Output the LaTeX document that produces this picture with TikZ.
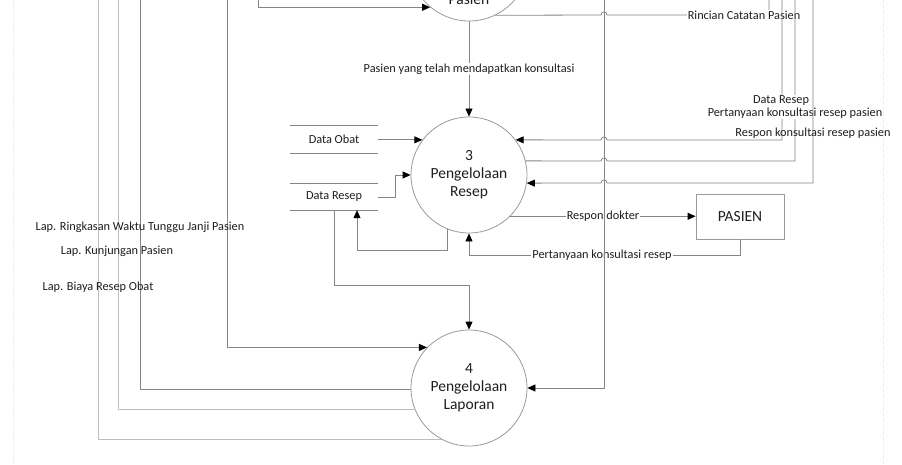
\documentclass[tikz,border=0pt]{standalone}
\usepackage{fontspec}
\setmainfont{Carlito}
\usetikzlibrary{arrows.meta,calc}
\definecolor{ln}{HTML}{858585}
\definecolor{lnl}{HTML}{BDBDBD}
\definecolor{circ}{HTML}{9A9A9A}
\definecolor{txt}{HTML}{1E1E1E}
\begin{document}
\begin{tikzpicture}[x=1pt,y=-1pt,
  proc/.style={circle,draw=circ,line width=0.8pt,minimum size=116pt,inner sep=0pt,align=center,
    font=\fontsize{15.5}{18}\selectfont,text=txt},
  conn/.style={draw=ln,line width=0.8pt},
  arr/.style={conn,-{Triangle[length=8pt,width=7pt,color=black]}},
  lbl/.style={font=\fontsize{12.3}{14}\selectfont,text=txt,inner sep=1pt},
  lblf/.style={lbl,fill=white},
  store/.style={minimum width=88pt,inner sep=0pt,font=\fontsize{12.3}{14}\selectfont,text=txt},
  entity/.style={draw=circ,line width=0.8pt,minimum width=88pt,minimum height=45pt,inner sep=0pt,
    font=\fontsize{15.5}{18}\selectfont,text=txt}]
\useasboundingbox (0,0) rectangle (902,465);
\clip (0,0) rectangle (902,465);
\fill[white] (0,0) rectangle (902,465);
\draw[gray!22,dotted] (13,0) -- (13,465);
\draw[gray!22,dotted] (883,0) -- (883,465);

% processes
\node[proc,minimum size=120pt] (c2) at (469,-39) {};
\node[lbl,font=\fontsize{15.5}{18}\selectfont,anchor=base] (c2t) at (469,5) {Pasien};
\node[proc] (c3) at (469,175) {3\\Pengelolaan\\Resep};
\node[proc] (c4) at (469,388) {4\\Pengelolaan\\Laporan};

% data stores
\node[store,minimum height=27pt] (ds1) at (334,139.5) {Data Obat};
\draw[conn] (ds1.north west) -- (ds1.north east);
\draw[conn] (ds1.south west) -- (ds1.south east);
\node[store,minimum height=26pt] (ds2) at (334,197) {Data Resep};
\draw[conn] (ds2.north west) -- (ds2.north east);
\draw[conn] (ds2.south west) -- (ds2.south east);

% external entity
\node[entity] (pas) at (740,216.5) {PASIEN};

% free ends at the top edge
\coordinate (t98) at (98,-5);
\coordinate (t118) at (118,-5);
\coordinate (t140) at (140,-5);
\coordinate (t227) at (227,-5);
\coordinate (t258) at (258,-5);
\coordinate (t604) at (604,-5);
\coordinate (t769) at (769,-5);
\coordinate (t782) at (782,-5);
\coordinate (t795) at (795,-5);
\coordinate (t813) at (813,-5);

% top connections
\draw[arr] (t258) |- (c2.230);
\draw[arr] (c2.south) -- (c3.north)
  node[lblf,pos=0.5] {Pasien yang telah mendapatkan konsultasi};
\draw[conn] (c2.-64) -- (601,15) arc[start angle=180,end angle=0,radius=3pt] -- (769,15) -- (t769);
\node[lblf] (lrc) at (744,15) {Rincian Catatan Pasien};

% right side connections with process 3
\draw[arr] (t782) |- (607,140) arc[start angle=0,end angle=180,radius=3pt] -- (c3.37);
\draw[conn] (c3.14) -- (601,161) arc[start angle=180,end angle=0,radius=3pt] -- (795,161) -- (t795);
\node[lblf] (ldr) at (781,101) {Data Resep};
\node[lblf] (lpk) at (795,113) {Pertanyaan konsultasi resep pasien};
\draw[arr] (t813) |- (607,183) arc[start angle=0,end angle=180,radius=3pt] -- (c3.-8);
\node[lbl] (lrk) at (813,133) {Respon konsultasi resep pasien};

% data stores with process 3 and 4
\draw[arr] (ds1.east |- c3.143) -- (c3.143);
\draw[arr] (ds2.east) -- (395,197) |- (c3.west);
\draw[arr] (c3.248) |- (357,250) -- (ds2.south -| 357,250);
\draw[arr] (ds2.south) |- (469,285) -- (c4.north);

% PASIEN entity
\draw[arr] (c3.-45) -- (pas.west |- c3.-45);
\node[lblf] (lrd) at (603,216) {Respon dokter};
\draw[arr] (pas.south) |- (469,255) -- (c3.south);
\node[lblf] (lpr) at (602,255) {Pertanyaan konsultasi resep};

% long vertical into process 4
\draw[arr] (t604) |- (c4.east);

% left side report flows
\draw[arr] (t227) |- (c4.136);
\draw[conn] (c4.181) -| (t140);
\draw[conn,draw=lnl] (c4.201) -| (t118);
\draw[conn,draw=lnl] (c4.242) -| (t98);
\node[lbl] (l1) at (140,227) {Lap. Ringkasan Waktu Tunggu Janji Pasien};
\node[lbl] (l2) at (117,251) {Lap. Kunjungan Pasien};
\node[lbl] (l3) at (98,287) {Lap. Biaya Resep Obat};
\end{tikzpicture}
\end{document}
